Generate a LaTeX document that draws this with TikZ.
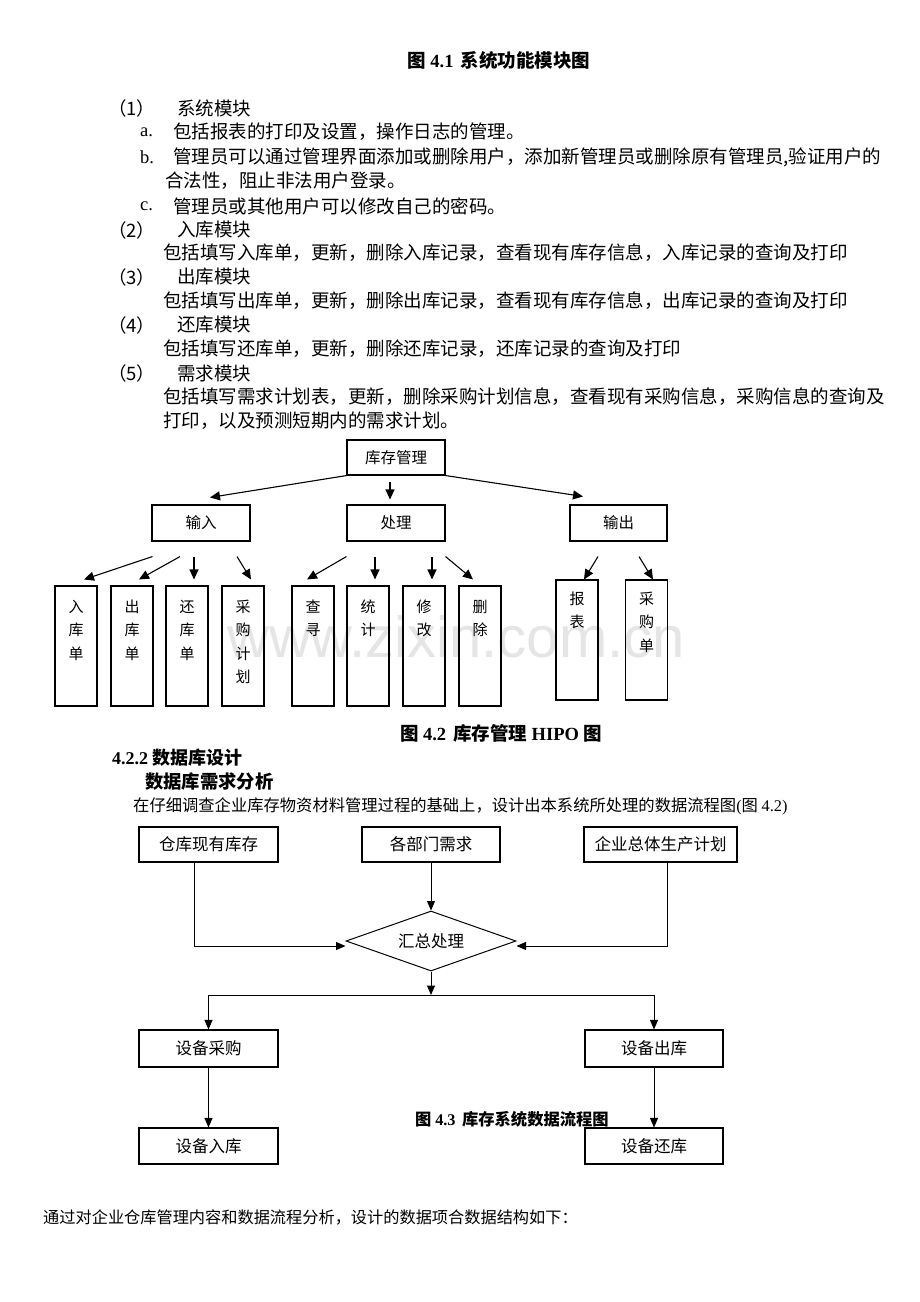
\documentclass[tikz,border=0pt]{standalone}
\usepackage{fontspec}
\setmainfont{Liberation Serif}
\newfontfamily\cjk{Noto Sans CJK SC}
\newfontfamily\wmfont{Liberation Sans}
\usetikzlibrary{arrows.meta,shapes.geometric,calc}
\begin{document}
\begin{tikzpicture}[x=1pt,y=-1pt,
  body/.style={anchor=west,inner sep=0pt,font=\cjk\fontsize{18.5}{20}\selectfont},
  lbl/.style={anchor=west,inner sep=0pt,font=\rmfamily\fontsize{18.5}{20}\selectfont},
  capt/.style={inner sep=0pt,font=\cjk\bfseries\fontsize{18.5}{20}\selectfont},
  hbox/.style={draw,line width=1.1pt,minimum width=98pt,minimum height=36pt,inner sep=0pt,font=\cjk\fontsize{15.5}{17}\selectfont},
  vbox/.style={draw,line width=1.1pt,minimum width=42pt,minimum height=120pt,inner sep=0pt},
  vch/.style={inner sep=0pt,font=\cjk\fontsize{15}{16}\selectfont},
  fbox/.style={draw,line width=1.1pt,minimum height=36pt,inner sep=0pt,font=\cjk\fontsize{16.5}{18}\selectfont},
  arr/.style={line width=1.1pt,-{Triangle[length=10pt,width=9pt]}},
  farr/.style={line width=1pt,-{Triangle[length=9.5pt,width=8pt]}}
]
\useasboundingbox (0,0) rectangle (920,1302);
\fill[white] (0,0) rectangle (920,1302);

% watermark
\node[anchor=base,inner sep=0pt,text=black!10,font=\wmfont\fontsize{58}{60}\selectfont] (wm) at (456,657) {www.zixin.com.cn};

% title
\node[capt] (title) at (499,60) {图 {\rmfamily\bfseries 4.1}\, 系统功能模块图};

% body text
\node[body] (n1) at (108,108) {（1）};
\node[body] (n1t) at (177,108) {系统模块};
\node[lbl] (la) at (140,132) {a.};
\node[body] (lat) at (173,132) {包括报表的打印及设置，操作日志的管理。};
\node[lbl] (lb) at (140,157) {b.};
\node[body] (lbt) at (173,157) {管理员可以通过管理界面添加或删除用户，添加新管理员或删除原有管理员,验证用户的};
\node[body] (lbt2) at (165,181) {合法性，阻止非法用户登录。};
\node[lbl] (lc) at (140,206) {c.};
\node[body] (lct) at (173,206) {管理员或其他用户可以修改自己的密码。};
\node[body] (n2) at (108,230) {（2）};
\node[body] (n2t) at (177,230) {入库模块};
\node[body] (n2d) at (163,253) {包括填写入库单，更新，删除入库记录，查看现有库存信息，入库记录的查询及打印};
\node[body] (n3) at (108,277) {（3）};
\node[body] (n3t) at (177,277) {出库模块};
\node[body] (n3d) at (163,301) {包括填写出库单，更新，删除出库记录，查看现有库存信息，出库记录的查询及打印};
\node[body] (n4) at (108,325) {（4）};
\node[body] (n4t) at (177,325) {还库模块};
\node[body] (n4d) at (163,349) {包括填写还库单，更新，删除还库记录，还库记录的查询及打印};
\node[body] (n5) at (108,373) {（5）};
\node[body] (n5t) at (177,373) {需求模块};
\node[body] (n5d) at (163,397) {包括填写需求计划表，更新，删除采购计划信息，查看现有采购信息，采购信息的查询及};
\node[body] (n5d2) at (163,421) {打印，以及预测短期内的需求计划。};

% HIPO diagram
\node[hbox,minimum height=35pt] (root) at (396,457.5) {库存管理};
\node[hbox] (in) at (201,523) {输入};
\node[hbox] (pr) at (396,523) {处理};
\node[hbox,minimum width=97pt] (out) at (618.5,523) {输出};

\foreach \n/\x in {r1/76,r2/132,r3/187,r4/243,p1/313,p2/368,p3/424,p4/480}
  \node[vbox] (\n) at (\x,646) {};
\node[vbox] (o1) at (577,640) {};
\node[vbox] (o2) at (646.5,640) {};

% vertical labels, one character per node
\foreach \b/\chars in {r1/{入,库,单},r2/{出,库,单},r3/{还,库,单},r4/{采,购,计,划},p1/{查,寻},p2/{统,计},p3/{修,改},p4/{删,除}}
  \foreach \c [count=\i] in \chars
    \node[vch] (\b t\i) at ($(\b.north)+(0,21+23.5*\i-23.5)$) {\c};
\foreach \b/\chars in {o1/{报,表},o2/{采,购,单}}
  \foreach \c [count=\i] in \chars
    \node[vch] (\b t\i) at ($(\b.north)+(0,19+23.5*\i-23.5)$) {\c};

\draw[arr] (root.south west) -- ($(in.north)+(9,-7)$);
\draw[arr] ($(root.south)+(-6,6)$) -- ($(pr.north)+(-6,-5)$);
\draw[arr] (root.south east) -- ($(out.north)+(-35.5,-8)$);

\draw[arr] ($(in.south west)+(1,15)$) -- ($(r1.north)+(8,-6)$);
\draw[arr] ($(in.south)+(-21,15)$) -- ($(r2.north)+(7,-6)$);
\draw[arr] ($(in.south)+(-7,15)$) -- ($(r3.north)+(7,-6)$);
\draw[arr] ($(in.south)+(36,15)$) -- ($(r4.north)+(8,-6)$);
\draw[arr] ($(pr.south west)+(0,15)$) -- ($(p1.north)+(-6,-6)$);
\draw[arr] ($(pr.south)+(-21,15)$) -- ($(p2.north)+(7,-6)$);
\draw[arr] ($(pr.south)+(36,15)$) -- ($(p3.north)+(8,-6)$);
\draw[arr] ($(pr.south east)+(0,15)$) -- ($(p4.north)+(-7,-6)$);
\draw[arr] ($(out.south)+(-20.5,15)$) -- ($(o1.north)+(7,0)$);
\draw[arr] ($(out.south)+(20.5,15)$) -- ($(o2.north)+(6.5,0)$);

% captions and headings
\node[capt] (cap2) at (501,733) {图 {\rmfamily\bfseries 4.2}\, 库存管理 {\rmfamily\bfseries HIPO} 图};
\node[capt,anchor=west,font=\cjk\bfseries\fontsize{18}{20}\selectfont] (h1) at (112,758) {{\rmfamily\bfseries 4.2.2} 数据库设计};
\node[capt,anchor=west,font=\cjk\bfseries\fontsize{18.3}{20}\selectfont] (h2) at (145,782) {数据库需求分析};
\node[body,font=\cjk\fontsize{16.3}{18}\selectfont] (p1text) at (133,806) {在仔细调查企业库存物资材料管理过程的基础上，设计出本系统所处理的数据流程图{\rmfamily (}图 {\rmfamily 4.2)}};

% data flow chart
\node[fbox,minimum width=139pt,minimum height=35pt] (f1) at (208.5,844.5) {仓库现有库存};
\node[fbox,minimum width=138pt,minimum height=35pt] (f2) at (431,844.5) {各部门需求};
\node[fbox,minimum width=153pt,minimum height=35pt] (f3) at (660.5,844.5) {企业总体生产计划};
\node[draw,diamond,line width=1pt,aspect=2.83,minimum width=170pt,minimum height=60pt,inner sep=0pt,font=\cjk\fontsize{16.5}{18}\selectfont] (d) at (431,941) {汇总处理};
\node[fbox,minimum width=139pt,minimum height=37pt] (g1) at (208.5,1048.5) {设备采购};
\node[fbox,minimum width=138pt,minimum height=37pt] (g2) at (654,1048.5) {设备出库};
\node[fbox,minimum width=139pt,minimum height=36pt] (g3) at (208.5,1146) {设备入库};
\node[fbox,minimum width=138pt,minimum height=36pt] (g4) at (654,1146) {设备还库};
\coordinate (j) at (431,995);

\draw[farr] ($(f1.south)+(-14.5,0)$) |- ($(d.west)+(0,5)$);
\draw[farr] ($(f3.south)+(6.5,0)$) |- ($(d.east)+(0,5)$);
\draw[farr] (f2.south) -- (d.north);
\draw[farr] (d.south) -- (j);
\draw[farr] (j) -| (g1.north);
\draw[farr] (j) -| (g2.north);
\draw[farr] (g1.south) -- (g3.north);
\draw[farr] (g2.south) -- (g4.north);

\node[capt,font=\cjk\bfseries\fontsize{16.3}{18}\selectfont] (cap3) at (512,1119) {图 {\rmfamily\bfseries 4.3}\, 库存系统数据流程图};

\node[body,font=\cjk\fontsize{16.2}{18}\selectfont] (last) at (43,1217) {通过对企业仓库管理内容和数据流程分析，设计的数据项合数据结构如下：};
\end{tikzpicture}
\end{document}
